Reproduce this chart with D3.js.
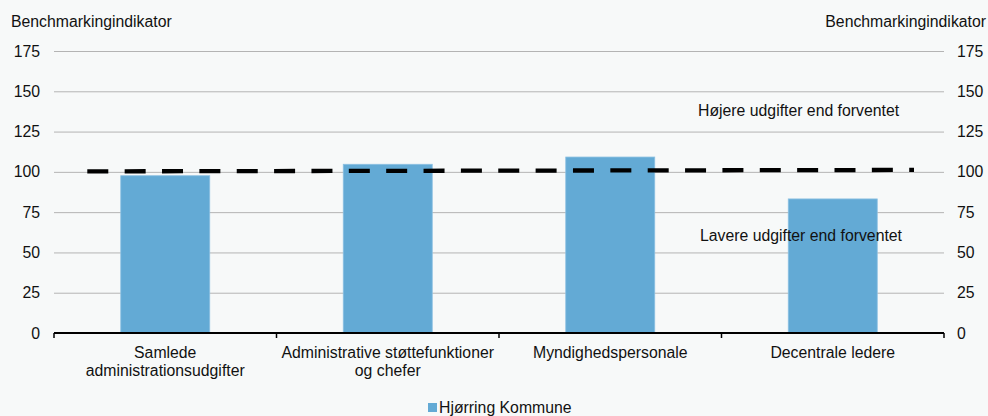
<!DOCTYPE html>
<html><head><meta charset="utf-8">
<script src="https://cdn.jsdelivr.net/npm/d3@7"></script>
<style>
html,body{margin:0;padding:0;background:#f7f9f9;}
svg{display:block;font-family:"Liberation Sans",Arial,sans-serif;}
</style></head>
<body><div id="chart"></div>
<script>
const categories = [["Samlede","administrationsudgifter"],["Administrative støttefunktioner","og chefer"],["Myndighedspersonale"],["Decentrale ledere"]];
const values = [97.6, 104.7, 109.2, 83.2];
const seriesName = "Hjørring Kommune";
const yTicks = [0,25,50,75,100,125,150,175];
const referenceLine = [100.3, 101.2];
const axisTitle = "Benchmarkingindikator";
const upperNote = "Højere udgifter end forventet";
const lowerNote = "Lavere udgifter end forventet";

const W=988,H=416,FS=15.8;
const m={l:54,r:44,t:51,b:83};
const svg=d3.select("#chart").append("svg").attr("width",W).attr("height",H);
svg.append("rect").attr("width",W).attr("height",H).attr("fill","#f7f9f9");

const x=d3.scaleBand().domain(d3.range(categories.length)).range([m.l,W-m.r]).paddingInner(0.6).paddingOuter(0.3);
const xb=d3.scaleBand().domain(d3.range(categories.length)).range([m.l,W-m.r]);
const y=d3.scaleLinear().domain([0,175]).range([H-m.b,m.t]);

// grid
svg.append("g").selectAll("line").data(yTicks.filter(d=>d>0)).join("line")
 .attr("x1",m.l).attr("x2",W-m.r).attr("y1",d=>y(d)+0.5).attr("y2",d=>y(d)+0.5)
 .attr("stroke","#b4b4b4").attr("stroke-width",1);

// left/right tick labels
svg.append("g").selectAll("text").data(yTicks).join("text")
 .attr("x",40).attr("y",d=>y(d)).attr("dy","0.35em").attr("text-anchor","end")
 .attr("font-size",FS).attr("fill","#111").text(d=>d);
svg.append("g").selectAll("text").data(yTicks).join("text")
 .attr("x",957).attr("y",d=>y(d)).attr("dy","0.35em").attr("text-anchor","start")
 .attr("font-size",FS).attr("fill","#111").text(d=>d);

// axis titles
svg.append("text").attr("x",11).attr("y",27).attr("font-size",FS).attr("fill","#111").text(axisTitle);
svg.append("text").attr("x",986).attr("y",27).attr("text-anchor","end").attr("font-size",FS).attr("fill","#111").text(axisTitle);

// bars
svg.append("g").selectAll("rect").data(values).join("rect")
 .attr("x",(d,i)=>x(i)).attr("width",x.bandwidth())
 .attr("y",d=>y(d)).attr("height",d=>y(0)-y(d))
 .attr("fill","#63aad5").attr("stroke","#8cc0e2").attr("stroke-width",0.8);

// x axis
const xAxis=svg.append("g");
xAxis.append("line").attr("x1",m.l).attr("x2",W-m.r).attr("y1",y(0)).attr("y2",y(0)).attr("stroke","#000").attr("stroke-width",2);
const tickXs=d3.range(categories.length+1).map(i=> i<categories.length? xb(i): xb(i-1)+xb.bandwidth());
xAxis.selectAll("line.t").data(tickXs).join("line").attr("class","t")
 .attr("x1",d=>d).attr("x2",d=>d).attr("y1",y(0)).attr("y2",y(0)+5).attr("stroke","#000").attr("stroke-width",1.5);
const lab=svg.append("g").selectAll("text").data(categories).join("text")
 .attr("x",(d,i)=>xb(i)+xb.bandwidth()/2).attr("y",y(0)+25).attr("text-anchor","middle").attr("font-size",FS).attr("fill","#111");
lab.each(function(d){
  d3.select(this).selectAll("tspan").data(d).join("tspan").attr("x",d3.select(this).attr("x")).attr("dy",(t,j)=>j?"1.17em":0).text(t=>t);
});

// reference dashed line
const rx=d3.scaleLinear().domain([0,1]).range([87.3,914]);
svg.append("path").datum(referenceLine)
 .attr("d",d3.line().x((d,i)=>rx(i)).y(d=>y(d)))
 .attr("stroke","#000").attr("stroke-width",4.3).attr("stroke-dasharray","21,16.36").attr("fill","none");

// notes
svg.append("text").attr("x",698).attr("y",116).attr("font-size",FS).attr("fill","#111").text(upperNote);
svg.append("text").attr("x",700).attr("y",241).attr("font-size",FS).attr("fill","#111").text(lowerNote);

// legend
svg.append("rect").attr("x",428).attr("y",403).attr("width",9).attr("height",9).attr("fill","#63aad5");
svg.append("text").attr("x",439).attr("y",413).attr("font-size",FS).attr("fill","#111").text(seriesName);
</script></body></html>
